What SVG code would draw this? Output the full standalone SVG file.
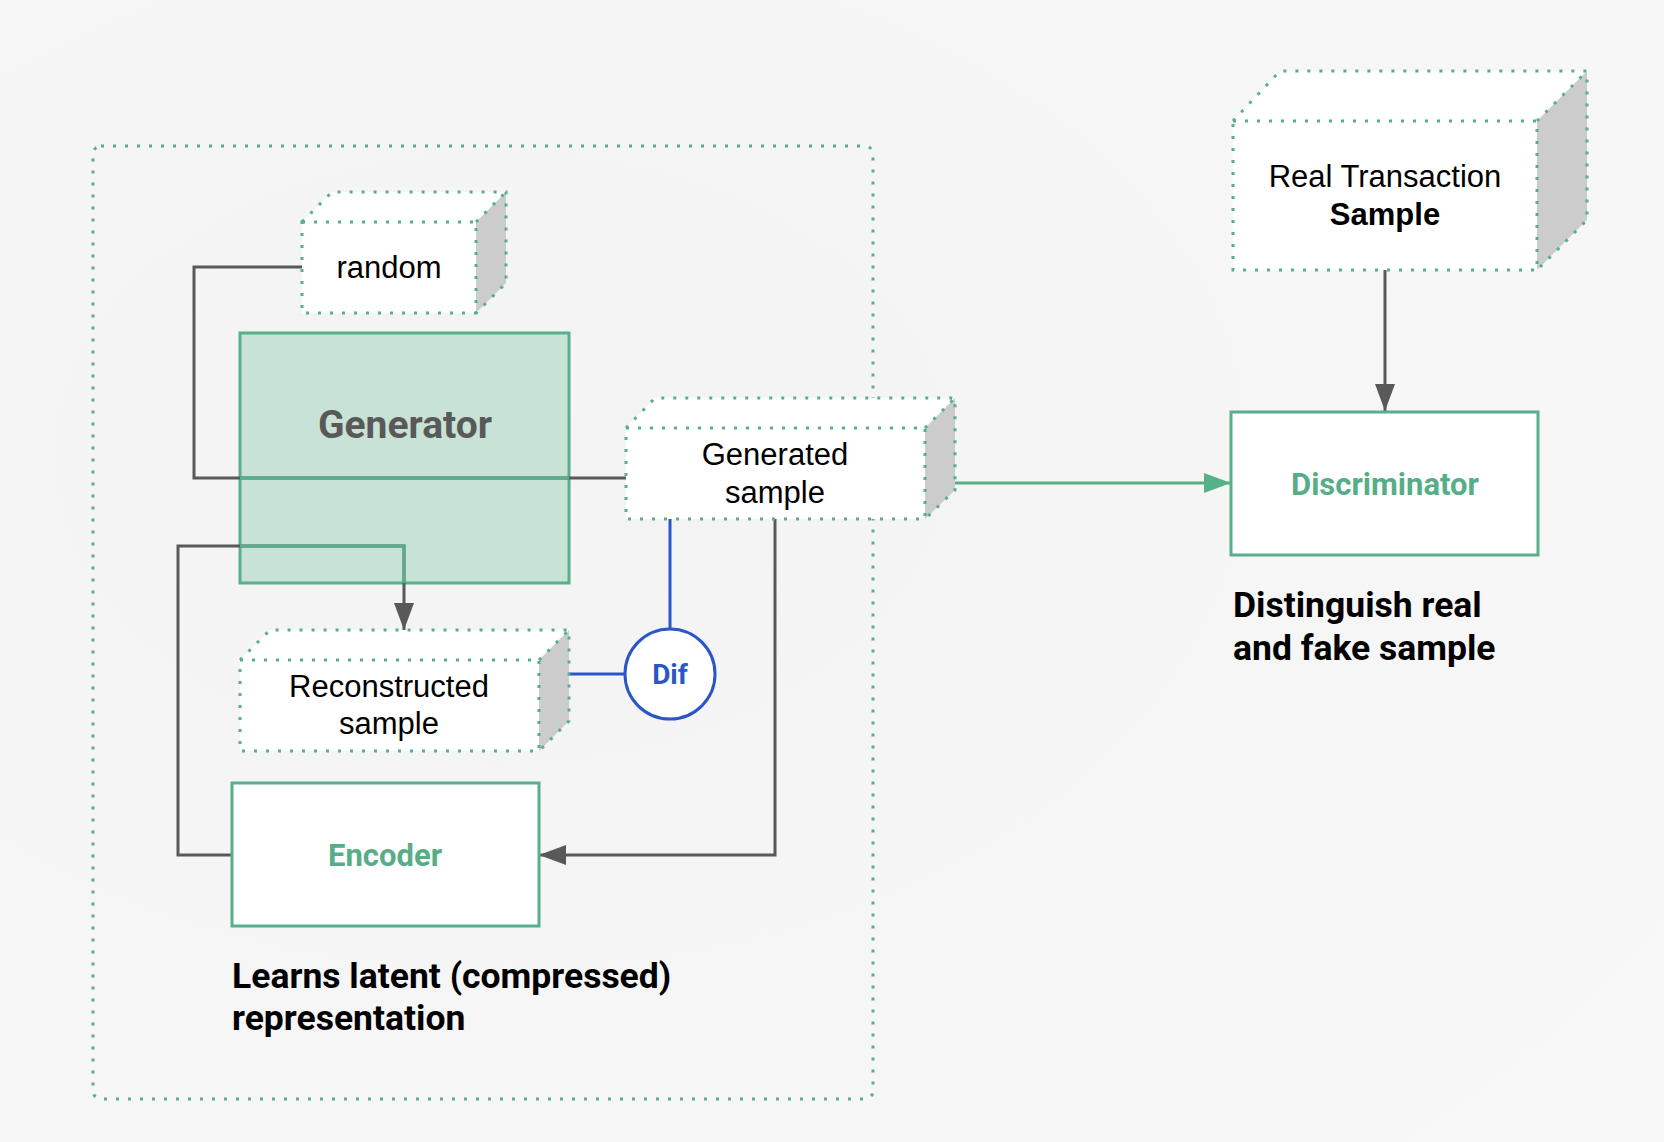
<svg xmlns="http://www.w3.org/2000/svg" width="1664" height="1142" viewBox="0 0 1664 1142">
<defs>
<style>
.dot{fill:none;stroke:#57b08a;stroke-width:3;stroke-dasharray:3 9}
.face{fill:#ffffff}
.side{fill:#cccccc}
.box{fill:#ffffff;stroke:#57b08a;stroke-width:3}
.gl{fill:none;stroke:#595959;stroke-width:3}
.gn{fill:none;stroke:#57b08a;stroke-width:3}
.bl{fill:none;stroke:#2a56c6;stroke-width:3}
.t{font-family:"Liberation Sans",Arial,sans-serif;font-size:31px;fill:#000;text-anchor:middle}
.b{font-family:Roboto,"Liberation Sans",Arial,sans-serif;font-weight:bold}
.lab{font-family:Roboto,"Liberation Sans",Arial,sans-serif;font-weight:bold;font-size:35.5px;fill:#000}
</style>
<marker id="ag" viewBox="0 0 27 20" refX="27" refY="10" markerWidth="27" markerHeight="20" markerUnits="userSpaceOnUse" orient="auto"><path d="M0,0 L27,10 L0,20 z" fill="#595959"/></marker>
<marker id="an" viewBox="0 0 27 20" refX="27" refY="10" markerWidth="27" markerHeight="20" markerUnits="userSpaceOnUse" orient="auto"><path d="M0,0 L27,10 L0,20 z" fill="#57b08a"/></marker>
<radialGradient id="bg" cx="0.3" cy="0.4" r="0.9"><stop offset="0" stop-color="#f3f3f3"/><stop offset="1" stop-color="#f8f8f8"/></radialGradient>
</defs>
<rect width="1664" height="1142" fill="url(#bg)"/>

<g id="container">
<rect x="93" y="146" width="780" height="953" rx="8" fill="#eef3f1" class="dot"/>
</g>

<g id="generator">
<rect x="240" y="333" width="329" height="250" fill="#c8e2d5" stroke="#57b08a" stroke-width="3"/>
<text x="405" y="438" class="b" font-size="39" fill="#595959" text-anchor="middle">Generator</text>
</g>

<g id="connectors">
<path class="gl" d="M302,267 H194 V478 H626"/>
<path class="gn" d="M240,478 H569"/>
<path class="gl" d="M232,855 H178 V546 H404 V630" marker-end="url(#ag)"/>
<path class="gn" d="M240,546 H404 V583"/>
<path class="gl" d="M775,519 V855 H539" marker-end="url(#ag)"/>
<path class="gn" d="M955,483 H1231" marker-end="url(#an)"/>
<path class="gl" d="M1385,270 V411" marker-end="url(#ag)"/>
<path class="bl" d="M670,519 V629"/>
<path class="bl" d="M569,674 H625"/>
</g>

<g id="random">
<polygon class="face" points="302,222 332,192 506,192 476,222"/>
<polygon class="side" points="476,222 506,192 506,283 476,313"/>
<rect class="face" x="302" y="222" width="174" height="91"/>
<path class="dot" d="M302,222 L332,192 H506 V283 L476,313 M476,222 L506,192"/>
<rect class="dot" x="302" y="222" width="174" height="91"/>
<text x="389" y="278" class="t">random</text>
</g>

<g id="generated">
<polygon class="face" points="626,428 655,398 955,398 925,428"/>
<polygon class="side" points="925,428 955,398 955,490 925,519"/>
<rect class="face" x="626" y="428" width="299" height="91"/>
<path class="dot" d="M626,428 L655,398 H955 V490 L925,519 M925,428 L955,398"/>
<rect class="dot" x="626" y="428" width="299" height="91"/>
<text x="775" y="465" class="t">Generated</text>
<text x="775" y="503" class="t">sample</text>
</g>

<g id="reconstructed">
<polygon class="face" points="240,660 270,630 569,630 539,660"/>
<polygon class="side" points="539,660 569,630 569,721 539,751"/>
<rect class="face" x="240" y="660" width="299" height="91"/>
<path class="dot" d="M240,660 L270,630 H569 V721 L539,751 M539,660 L569,630"/>
<rect class="dot" x="240" y="660" width="299" height="91"/>
<text x="389" y="697" class="t">Reconstructed</text>
<text x="389" y="734" class="t">sample</text>
</g>

<g id="dif">
<circle cx="670" cy="674" r="45" fill="#ffffff" stroke="#2a56c6" stroke-width="3"/>
<text x="670" y="684" class="b" font-size="28" fill="#2a56c6" text-anchor="middle">Dif</text>
</g>

<g id="encoder">
<rect class="box" x="232" y="783" width="307" height="143"/>
<text x="385" y="866" class="b" font-size="31" fill="#57ae86" text-anchor="middle">Encoder</text>
</g>

<g id="real">
<polygon class="face" points="1233,121 1280,71 1587,71 1537,121"/>
<polygon class="side" points="1537,121 1587,71 1587,220 1537,270"/>
<rect class="face" x="1233" y="121" width="304" height="149"/>
<path class="dot" d="M1233,121 L1280,71 H1587 V220 L1537,270 M1537,121 L1587,71"/>
<rect class="dot" x="1233" y="121" width="304" height="149"/>
<text x="1385" y="187" class="t">Real Transaction</text>
<text x="1385" y="225" class="t" font-weight="bold">Sample</text>
</g>

<g id="discriminator">
<rect class="box" x="1231" y="412" width="307" height="143"/>
<text x="1385" y="495" class="b" font-size="31" fill="#57ae86" text-anchor="middle">Discriminator</text>
</g>

<g id="labels">
<text x="232" y="988" class="lab">Learns latent (compressed)</text>
<text x="232" y="1030" class="lab">representation</text>
<text x="1233" y="617" class="lab">Distinguish real</text>
<text x="1233" y="660" class="lab">and fake sample</text>
</g>
</svg>
